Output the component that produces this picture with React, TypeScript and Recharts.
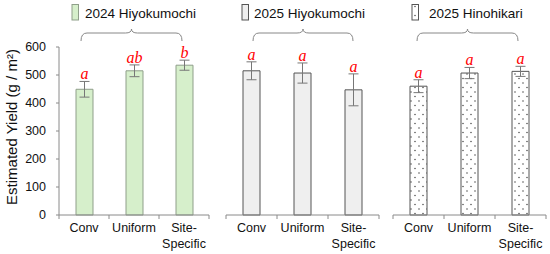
import React from 'react';
import { ComposedChart, Bar, XAxis, YAxis, ErrorBar, LabelList } from 'recharts';

const categories = ['Conv', 'Uniform', 'Site-\nSpecific'];
const groupNames = ['2024 Hiyokumochi', '2025 Hiyokumochi', '2025 Hinohikari'];

const yield2024Hiyo = [449, 515, 535];
const err2024Hiyo = [28, 21, 18];
const letters2024Hiyo = ['a', 'ab', 'b'];

const yield2025Hiyo = [515, 507, 447];
const err2025Hiyo = [32, 36, 57];
const letters2025Hiyo = ['a', 'a', 'a'];

const yield2025Hino = [460, 507, 513];
const err2025Hino = [23, 20, 18];
const letters2025Hino = ['a', 'a', 'a'];

const yTicks = [0, 100, 200, 300, 400, 500, 600];

const SANS = "'Liberation Sans', Arial, sans-serif";
const SERIF = "'Liberation Serif', 'DejaVu Serif', serif";
const AXIS_COLOR = '#8a8a8a';
const Y_AXIS_WIDTH = 59;

const buildRows = (means: number[], errs: number[], letters: string[]) =>
  categories.map((cat, i) => ({ cat, mean: means[i], err: errs[i], letter: letters[i] }));

const makeCatTick = (band: number) => (props: any) => {
  const { x, y, payload, index } = props;
  const lines = String(payload.value).split('\n');
  const half = band / 2;
  return (
    <g>
      {index === 0 && (
        <line x1={x - half} x2={x - half} y1={y} y2={y + 4} stroke={AXIS_COLOR} />
      )}
      <line x1={x + half} x2={x + half} y1={y} y2={y + 4} stroke={AXIS_COLOR} />
      <text x={x} y={y} textAnchor="middle" fontSize={12.5} fill="#111" fontFamily={SANS}>
        {lines.map((l, i) => (
          <tspan key={i} x={x} dy={i === 0 ? 17 : 16}>{l}</tspan>
        ))}
      </text>
    </g>
  );
};

const makeLetterLabel = (errs: number[], letters: string[]) => (props: any) => {
  const { x, y, width, height, value, index } = props;
  const px = Number(height) / Number(value);
  const top = Number(y) - errs[index] * px;
  return (
    <text
      x={Number(x) + Number(width) / 2}
      y={top - 2}
      textAnchor="middle"
      fill="#ff0000"
      fontStyle="italic"
      fontFamily={SERIF}
      fontSize={16}
    >
      {letters[index]}
    </text>
  );
};

const bracePath = (x1: number, x2: number, cx: number) => {
  const yb = 41, yl = 33, yt = 29;
  return `M${x1},${yb} Q${x1},${yl} ${x1 + 6},${yl} L${cx - 6},${yl} Q${cx},${yl} ${cx},${yt} Q${cx},${yl} ${cx + 6},${yl} L${x2 - 6},${yl} Q${x2},${yl} ${x2},${yb}`;
};

type PanelProps = {
  left: number;
  width: number;
  margin: { top: number; right: number; left: number; bottom: number };
  showY: boolean;
  means: number[];
  errs: number[];
  letters: string[];
  name: string;
  fill: string;
  stroke: string;
  swatchX: number;
  textX: number;
  brace: [number, number, number];
  pattern?: boolean;
};

const Panel = (p: PanelProps) => {
  const data = buildRows(p.means, p.errs, p.letters);
  const plotWidth = p.width - p.margin.left - p.margin.right - (p.showY ? Y_AXIS_WIDTH : 0);
  const band = plotWidth / categories.length;
  const CatTick = makeCatTick(band);
  return (
    <div style={{ position: 'absolute', left: p.left, top: 0 }}>
      <ComposedChart width={p.width} height={254} data={data} margin={p.margin}>
        <defs>
          <pattern id="dotsPat" width="8" height="9" patternUnits="userSpaceOnUse">
            <rect width="8" height="9" fill="#ffffff" />
            <circle cx="2" cy="2" r="0.7" fill="#333" />
            <circle cx="6" cy="6.5" r="0.7" fill="#333" />
          </pattern>
        </defs>
        <XAxis
          dataKey="cat"
          type="category"
          axisLine={{ stroke: AXIS_COLOR }}
          tickLine={false}
          tickSize={0}
          tickMargin={0}
          height={39}
          interval={0}
          tick={<CatTick />}
        />
        {p.showY ? (
          <YAxis
            domain={[0, 600]}
            ticks={yTicks}
            width={Y_AXIS_WIDTH}
            tickSize={3}
            tickMargin={10}
            axisLine={{ stroke: AXIS_COLOR }}
            tickLine={{ stroke: AXIS_COLOR }}
            tick={{ fontSize: 12.5, fill: '#111', fontFamily: SANS }}
            label={() => (
              <text
                transform="translate(17,127) rotate(-90)"
                textAnchor="middle"
                fontSize={15}
                fill="#111"
                fontFamily={SANS}
              >
                Estimated Yield (g / m²)
              </text>
            )}
          />
        ) : (
          <YAxis domain={[0, 600]} ticks={yTicks} hide />
        )}
        <Bar
          dataKey="mean"
          barSize={17}
          fill={p.pattern ? 'url(#dotsPat)' : p.fill}
          stroke={p.stroke}
          strokeWidth={1}
          isAnimationActive={false}
        >
          <ErrorBar dataKey="err" width={5} stroke="#777" strokeWidth={1} />
          <LabelList dataKey="mean" content={makeLetterLabel(p.errs, p.letters)} />
        </Bar>
        <g>
          <rect
            x={p.swatchX}
            y={4.5}
            width={6.5}
            height={15.5}
            fill={p.pattern ? 'url(#dotsPat)' : p.fill}
            stroke={p.stroke}
            strokeWidth={1}
          />
          <text x={p.textX} y={18} fontSize={13.5} fill="#111" fontFamily={SANS}>
            {p.name}
          </text>
          <path d={bracePath(p.brace[0], p.brace[1], p.brace[2])} fill="none" stroke="#888" strokeWidth={1} />
        </g>
      </ComposedChart>
    </div>
  );
};

export default function App() {
  return (
    <div style={{ position: 'absolute', left: 0, top: 0, width: 550, height: 254, background: '#fff', overflow: 'hidden' }}>
      <Panel
        left={0}
        width={215}
        margin={{ top: 47, right: 6, left: 0, bottom: 0 }}
        showY
        means={yield2024Hiyo}
        errs={err2024Hiyo}
        letters={letters2024Hiyo}
        name={groupNames[0]}
        fill="#d6efcb"
        stroke="#8f9f8a"
        swatchX={72}
        textX={85}
        brace={[81, 182, 131.5]}
      />
      <Panel
        left={215}
        width={170}
        margin={{ top: 47, right: 6, left: 11, bottom: 0 }}
        showY={false}
        means={yield2025Hiyo}
        errs={err2025Hiyo}
        letters={letters2025Hiyo}
        name={groupNames[1]}
        fill="#efefef"
        stroke="#555"
        swatchX={27}
        textX={39}
        brace={[38, 138, 88]}
      />
      <Panel
        left={385}
        width={165}
        margin={{ top: 47, right: 4, left: 8, bottom: 0 }}
        showY={false}
        means={yield2025Hino}
        errs={err2025Hino}
        letters={letters2025Hino}
        name={groupNames[2]}
        fill="#ffffff"
        stroke="#555"
        swatchX={27}
        textX={44}
        brace={[32, 133, 82.5]}
        pattern
      />
    </div>
  );
}
